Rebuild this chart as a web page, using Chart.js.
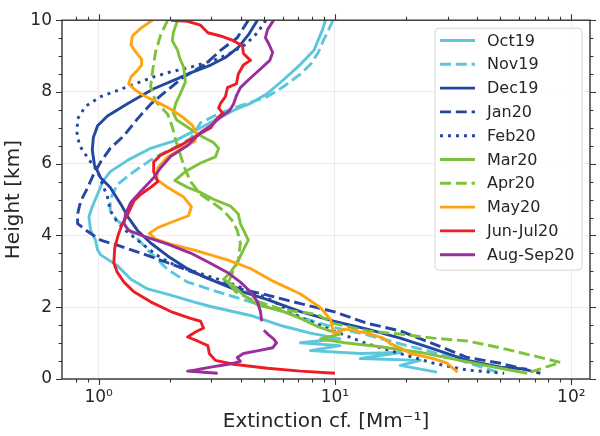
<!DOCTYPE html>
<html><head><meta charset="utf-8">
<script src="https://cdn.jsdelivr.net/npm/chart.js@4/dist/chart.umd.min.js"></script>
<style>html,body{margin:0;padding:0;background:#fff}#wrap{width:600px;height:436px;position:relative}</style>
</head><body><div id="wrap"><canvas id="c" width="600" height="436"></canvas></div>
<script>
// ---- data (extinction coefficient [Mm^-1] vs height [km]) ----
const seriesNames = ['Oct19','Nov19','Dec19','Jan20','Feb20','Mar20','Apr20','May20','Jun-Jul20','Aug-Sep20'];

const oct19Ext = [9.12,8.85,8.15,7.15,6.06,5.18,4.39,3.73,3.19,2.70,2.12,1.66,1.33,1.12,1.04,0.99,0.94,0.91,0.925,0.97,0.99,1.02,1.20,1.37,1.61,2.02,2.52,2.98,4.39,6.06,7.88,10.5,7.15,10.5,7.88,12.8,18.9,12.8,23.0,18.9,27.0];
const oct19H   = [10.0,9.73,9.16,8.77,8.34,7.96,7.68,7.49,7.25,7.00,6.65,6.43,6.10,5.78,5.50,5.15,4.80,4.52,4.14,3.87,3.60,3.46,3.16,2.78,2.51,2.34,2.15,2.02,1.77,1.47,1.28,1.12,1.01,0.93,0.79,0.71,0.74,0.57,0.52,0.38,0.19];

const nov19Ext = [9.8,9.4,8.97,8.5,7.88,7.15,6.06,5.18,4.39,3.72,3.19,2.70,2.45,2.02,1.71,1.41,1.20,1.12,1.12,1.20,1.30,1.43,1.66,1.96,2.38,3.19,4.39,6.06,7.15,9.87,13.7,18.9,26.1,36.3,48.5];
const nov19H   = [10.0,9.73,9.46,9.10,8.77,8.50,8.15,7.87,7.71,7.55,7.38,7.14,6.70,6.40,6.16,5.78,5.42,5.01,4.69,4.41,4.25,3.98,3.51,3.05,2.70,2.43,2.15,1.88,1.72,1.44,1.23,0.98,0.74,0.46,0.19];

const dec19Ext = [4.7,4.3,3.9,3.44,2.98,2.45,2.16,1.71,1.33,1.09,0.99,0.95,0.94,0.96,1.02,1.12,1.24,1.33,1.46,1.66,1.96,2.33,2.70,3.72,5.18,7.15,9.87,13.7,18.9,26.1,36.3,50.1,65];
const dec19H   = [10.0,9.59,9.24,8.96,8.75,8.53,8.37,8.09,7.68,7.33,7.06,6.73,6.38,5.97,5.61,5.34,4.88,4.52,4.14,3.79,3.43,3.11,2.89,2.51,2.21,1.88,1.61,1.39,1.14,0.84,0.52,0.33,0.27];

const jan20Ext = [4.3,3.86,3.28,2.83,2.29,1.88,1.66,1.46,1.28,1.12,1.02,0.95,0.90,0.84,0.815,0.815,0.90,1.02,1.20,1.51,1.96,2.52,3.19,3.98,5.18,7.15,9.87,13.7,18.9,26.1,36.3,50.1,74];
const jan20H   = [10.0,9.51,9.16,8.77,8.42,7.96,7.66,7.25,6.78,6.43,6.05,5.69,5.34,4.96,4.60,4.33,4.11,3.87,3.73,3.51,3.24,2.97,2.70,2.51,2.34,2.10,1.88,1.55,1.34,0.98,0.60,0.44,0.16];

const feb20Ext = [5.1,4.7,4.18,3.54,3.06,2.45,2.02,1.71,1.33,1.02,0.88,0.815,0.81,0.83,0.90,0.99,1.04,1.09,1.12,1.19,1.30,1.43,1.61,1.83,2.12,2.70,3.61,5.18,7.15,9.87,13.7,18.9,26.1,36.3,52];
const feb20H   = [10.0,9.65,9.32,9.05,8.88,8.69,8.56,8.42,8.15,7.87,7.60,7.25,6.87,6.51,6.16,5.78,5.42,5.07,4.69,4.41,4.14,3.92,3.65,3.38,3.16,2.94,2.67,2.26,1.72,1.34,0.98,0.71,0.44,0.25,0.16];

const mar20Ext = [2.16,2.07,2.05,2.16,2.2,2.29,2.33,2.22,2.12,2.07,2.14,2.33,2.70,3.06,3.22,3.12,2.70,2.33,2.10,2.38,2.70,3.06,3.61,3.90,3.98,4.3,4.1,3.86,3.61,3.38,3.68,4.1,4.7,6.06,7.15,8.4,10.5,8.7,11.0,15.6,23.0,33.9,50.1,65];
const mar20H   = [10.0,9.65,9.43,9.16,8.96,8.69,8.28,7.96,7.68,7.41,7.22,7.06,6.78,6.59,6.43,6.19,6.02,5.78,5.53,5.34,5.20,5.01,4.82,4.60,4.33,3.87,3.60,3.24,2.97,2.78,2.62,2.34,2.07,1.88,1.69,1.47,1.25,1.12,1.01,0.90,0.74,0.52,0.30,0.16];

const apr20Ext = [1.96,1.83,1.74,1.69,1.66,1.74,1.96,2.05,2.12,2.22,2.31,2.45,2.70,3.06,3.38,3.68,3.86,3.98,3.9,3.72,3.54,3.80,4.39,5.18,6.06,8.4,9.87,13.7,18.9,26.1,36.3,50.1,69,90,67];
const apr20H   = [10.0,9.59,9.10,8.56,8.15,7.74,7.38,7.03,6.65,6.24,5.89,5.50,5.15,4.90,4.69,4.41,4.14,3.79,3.32,3.02,2.70,2.43,2.23,2.07,1.93,1.80,1.55,1.34,1.25,1.14,1.06,0.87,0.65,0.46,0.19];

const may20Ext = [1.69,1.51,1.39,1.37,1.43,1.52,1.52,1.45,1.37,1.34,1.42,1.55,1.78,2.02,2.29,2.5,2.6,2.55,2.29,1.96,1.78,1.76,1.96,2.29,2.47,2.40,2.07,1.78,1.64,1.74,2.02,2.52,3.51,4.39,5.5,7.15,8.68,9.57,9.87,11.1,13.7,16.0,17.2,18.9,20.9,26.1,29.8,33];
const may20H   = [10.0,9.78,9.56,9.32,9.13,8.91,8.75,8.58,8.42,8.23,8.07,7.90,7.71,7.52,7.28,7.06,6.84,6.62,6.46,6.19,5.89,5.56,5.34,5.07,4.80,4.55,4.39,4.22,4.06,3.90,3.76,3.60,3.32,3.08,2.72,2.37,1.99,1.66,1.28,1.39,1.28,1.14,0.98,0.87,0.71,0.57,0.44,0.19];

const junJul20Ext = [2.02,2.38,2.70,2.9,3.28,3.72,4.06,4.1,4.39,4.1,3.9,3.83,3.51,3.44,3.28,3.22,3.35,3.16,2.98,2.70,2.22,1.83,1.71,1.71,1.78,1.66,1.51,1.41,1.33,1.26,1.21,1.17,1.16,1.20,1.28,1.41,1.66,2.02,2.45,2.70,2.78,2.57,2.38,2.62,2.9,2.94,3.12,3.72,5.18,7.15,10.0];
const junJul20H   = [10.0,9.97,9.86,9.65,9.56,9.43,9.29,9.07,8.88,8.75,8.50,8.23,8.12,7.87,7.68,7.55,7.41,7.25,7.00,6.84,6.51,6.24,6.05,5.78,5.50,5.34,5.15,4.96,4.60,4.33,4.01,3.65,3.24,2.97,2.70,2.43,2.15,1.88,1.69,1.61,1.42,1.31,1.17,1.06,0.93,0.71,0.52,0.41,0.30,0.22,0.16];

const augSep20Ext = [5.5,5.18,5.08,5.24,5.45,5.3,4.84,4.39,3.98,3.83,3.72,3.57,3.28,2.98,2.70,2.38,2.02,1.83,1.71,1.51,1.37,1.30,1.28,1.34,1.55,1.96,2.45,2.89,3.51,3.98,4.39,4.7,4.84,4.9,null,5.0,5.24,5.5,5.66,5.45,4.75,4.1,3.86,3.98,3.54,2.98,2.57,2.38,2.78,3.19];
const augSep20H   = [10.0,9.73,9.51,9.35,9.10,8.88,8.64,8.39,8.12,7.90,7.66,7.47,7.30,7.06,6.87,6.51,6.21,5.89,5.61,5.23,4.93,4.60,4.33,4.14,3.98,3.76,3.51,3.27,2.97,2.70,2.43,2.15,1.88,1.61,null,1.36,1.23,1.12,1.01,0.87,0.79,0.71,0.60,0.49,0.41,0.33,0.25,0.22,0.19,0.16];

// ---- axis ticks ----
const xMajorTicks = [1, 10, 100];
const xTickLabels = ['10\u2070', '10\u00B9', '10\u00B2'];
const xMinorTicks = [0.8,0.9,2,3,4,5,6,7,8,9,20,30,40,50,60,70,80,90];
const yMajorTicks = [0,2,4,6,8,10];
const yMinorTicks = [0.5,1,1.5,2.5,3,3.5,4.5,5,5.5,6.5,7,7.5,8.5,9,9.5];

// ---- styles ----
const CYAN = '#5cc6dc', DBLUE = '#2447a0', GREEN = '#7dc23c', ORANGE = '#ffa411', RED = '#ee1c24', PURPLE = '#9a2e9d';
const DASH = [11, 4.8], DOT = [3, 5];
const styles = [
  [CYAN, []], [CYAN, DASH], [DBLUE, []], [DBLUE, DASH], [DBLUE, DOT],
  [GREEN, []], [GREEN, DASH], [ORANGE, []], [RED, []], [PURPLE, []]
];
const seriesData = [
  [oct19Ext, oct19H], [nov19Ext, nov19H], [dec19Ext, dec19H], [jan20Ext, jan20H], [feb20Ext, feb20H],
  [mar20Ext, mar20H], [apr20Ext, apr20H], [may20Ext, may20H], [junJul20Ext, junJul20H], [augSep20Ext, augSep20H]
];

function pts(ext, h) {
  const n = Math.min(ext.length, h.length), out = [];
  for (let i = 0; i < n; i++) out.push({x: ext[i], y: h[i]});
  return out;
}

const FONT = "'DejaVu Sans', sans-serif";
const TXT = '#262626';

const datasets = seriesNames.map((name, i) => ({
  label: name,
  data: pts(seriesData[i][0], seriesData[i][1]),
  showLine: true,
  borderColor: styles[i][0],
  backgroundColor: styles[i][0],
  borderDash: styles[i][1],
  borderWidth: 2.9,
  borderCapStyle: 'butt',
  borderJoinStyle: 'round',
  pointRadius: 0,
  pointHoverRadius: 0,
  tension: 0,
  spanGaps: false,
  fill: false,
  order: seriesNames.length - i
}));

const decor = {
  id: 'decor',
  afterDraw(chart) {
    const {ctx, chartArea: a, scales: {x, y}} = chart;
    ctx.save();
    ctx.strokeStyle = '#333';
    ctx.lineWidth = 1.1;
    ctx.beginPath();
    const yt = (v, L) => {
      const p = Math.round(y.getPixelForValue(v)) + 0.5;
      ctx.moveTo(a.left, p); ctx.lineTo(a.left - L, p);
      ctx.moveTo(a.right, p); ctx.lineTo(a.right + L, p);
    };
    const xt = (v, L) => {
      const p = Math.round(x.getPixelForValue(v)) + 0.5;
      ctx.moveTo(p, a.bottom); ctx.lineTo(p, a.bottom + L);
      ctx.moveTo(p, a.top); ctx.lineTo(p, a.top - L);
    };
    yMajorTicks.forEach(v => yt(v, 6));
    yMinorTicks.forEach(v => yt(v, 3.5));
    xMajorTicks.forEach(v => xt(v, 6));
    xMinorTicks.forEach(v => xt(v, 3.5));
    ctx.stroke();
    ctx.lineWidth = 1.4;
    ctx.strokeStyle = '#333';
    ctx.strokeRect(a.left, a.top, a.right - a.left, a.bottom - a.top);

    // legend
    const bx = a.right - 155, by = a.top + 8, bw = 147, bh = 242;
    ctx.beginPath();
    const r = 4;
    ctx.moveTo(bx + r, by); ctx.lineTo(bx + bw - r, by); ctx.arcTo(bx + bw, by, bx + bw, by + r, r);
    ctx.lineTo(bx + bw, by + bh - r); ctx.arcTo(bx + bw, by + bh, bx + bw - r, by + bh, r);
    ctx.lineTo(bx + r, by + bh); ctx.arcTo(bx, by + bh, bx, by + bh - r, r);
    ctx.lineTo(bx, by + r); ctx.arcTo(bx, by, bx + r, by, r);
    ctx.closePath();
    ctx.fillStyle = 'rgba(255,255,255,0.85)';
    ctx.fill();
    ctx.strokeStyle = '#d6d6d6';
    ctx.lineWidth = 1;
    ctx.stroke();
    ctx.font = '16px ' + FONT;
    ctx.textBaseline = 'middle';
    ctx.textAlign = 'left';
    chart.data.datasets.forEach((ds, i) => {
      const cy = by + 12.3 + i * 23.8;
      ctx.beginPath();
      ctx.setLineDash(ds.borderDash);
      ctx.strokeStyle = ds.borderColor;
      ctx.lineWidth = ds.borderWidth;
      ctx.lineCap = 'butt';
      ctx.moveTo(bx + 5, cy); ctx.lineTo(bx + 40, cy);
      ctx.stroke();
      ctx.setLineDash([]);
      ctx.fillStyle = TXT;
      ctx.fillText(ds.label, bx + 52, cy + 1);
    });
    ctx.restore();
  }
};

new Chart(document.getElementById('c'), {
  type: 'scatter',
  data: { datasets },
  options: {
    responsive: false,
    devicePixelRatio: 1,
    animation: false,
    events: [],
    layout: { padding: { left: 0, right: 10, top: 12, bottom: 0 } },
    plugins: { legend: { display: false }, tooltip: { enabled: false } },
    scales: {
      x: {
        type: 'logarithmic',
        min: 0.705, max: 120,
        afterBuildTicks: s => { s.ticks = xMajorTicks.map(v => ({ value: v })); },
        afterFit: s => { s.height = 57; },
        ticks: {
          autoSkip: false, maxRotation: 0, padding: 8,
          font: { family: FONT, size: 17 }, color: TXT,
          callback: (v) => { const k = xMajorTicks.indexOf(v); return k >= 0 ? xTickLabels[k] : ''; }
        },
        grid: { color: 'rgba(0,0,0,0.07)', lineWidth: 1, drawTicks: false },
        border: { display: false },
        title: { display: true, text: 'Extinction cf. [Mm\u207B\u00B9]', color: TXT,
                 font: { family: FONT, size: 20 }, padding: { top: 0, bottom: 2 } }
      },
      y: {
        type: 'linear',
        min: 0, max: 10,
        afterBuildTicks: s => { s.ticks = yMajorTicks.map(v => ({ value: v })); },
        afterFit: s => { s.width = 62; },
        ticks: { padding: 10, font: { family: FONT, size: 17 }, color: TXT },
        grid: { color: 'rgba(0,0,0,0.07)', lineWidth: 1, drawTicks: false },
        border: { display: false },
        title: { display: true, text: 'Height [km]', color: TXT,
                 font: { family: FONT, size: 20 }, padding: { top: 2, bottom: 0 } }
      }
    }
  },
  plugins: [decor]
});
</script>
</body></html>
